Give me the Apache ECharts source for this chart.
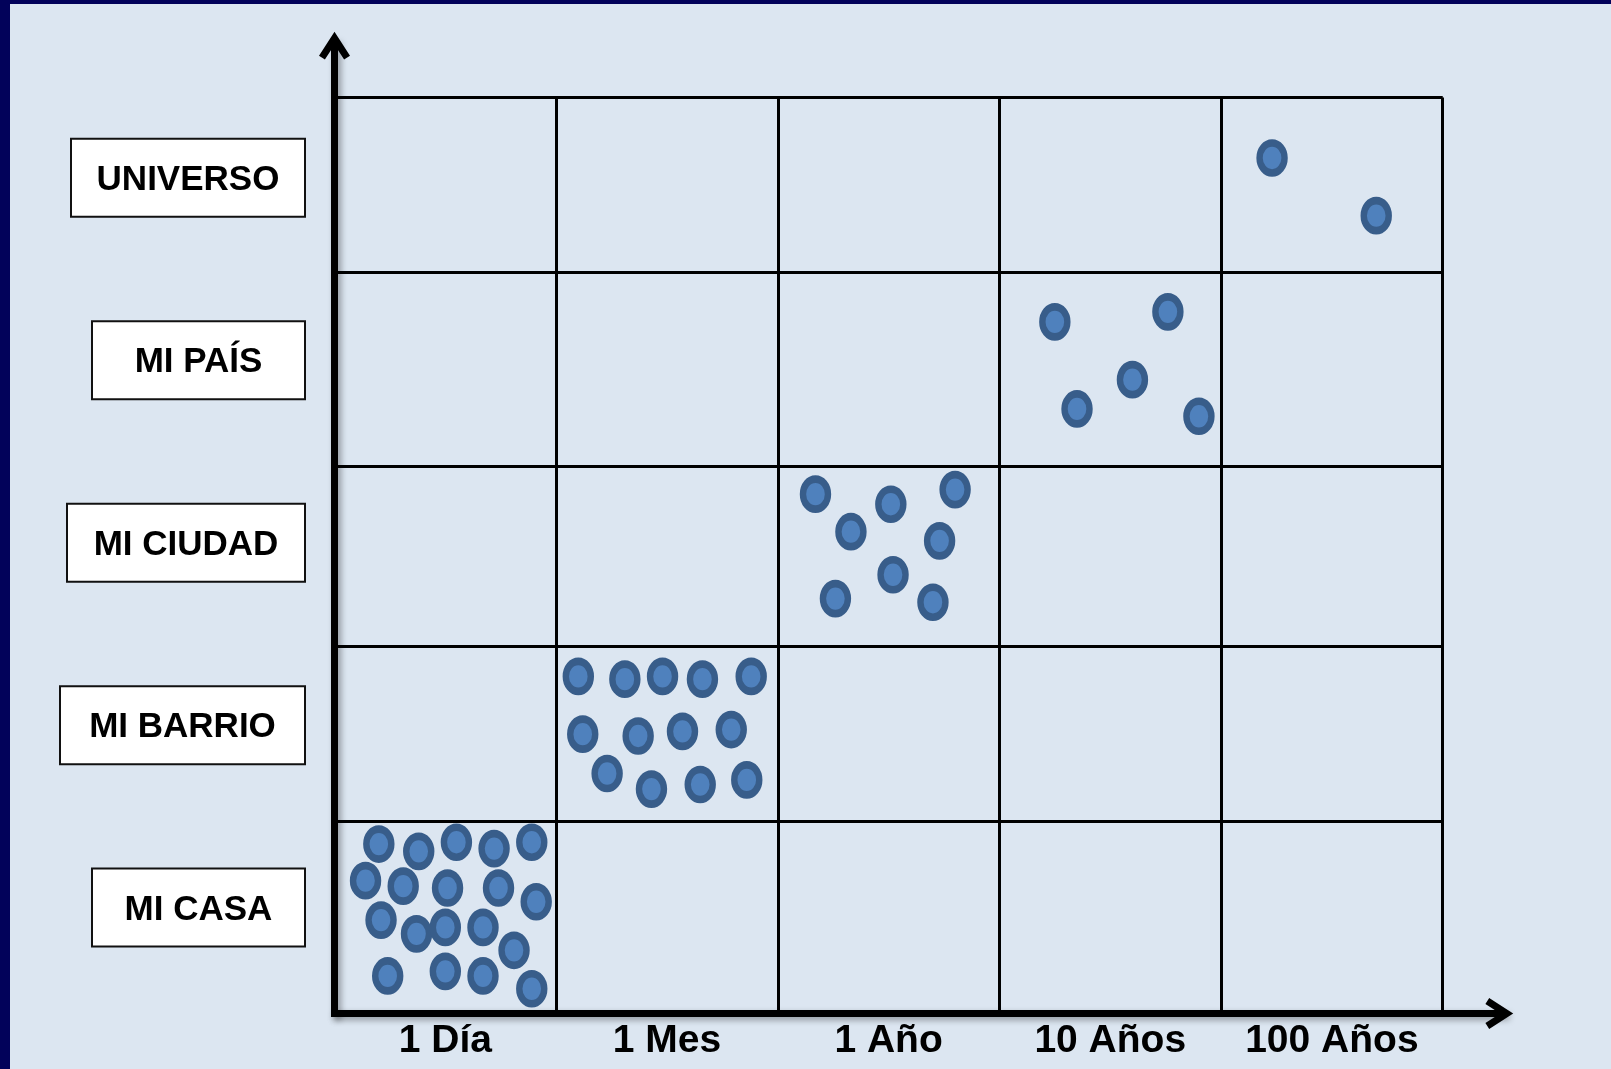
<!DOCTYPE html>
<html>
<head>
<meta charset="utf-8">
<script src="https://cdn.jsdelivr.net/npm/echarts@6/dist/echarts.min.js"></script>
<style>
html,body{margin:0;padding:0;background:#dce6f1;}
#chart{width:1611px;height:1069px;}
</style>
</head>
<body>
<div id="chart"></div>
<script>
// ---- data ----
const timeLabels = ['1 Día', '1 Mes', '1 Año', '10 Años', '100 Años'];
const placeLabels = ['MI CASA', 'MI BARRIO', 'MI CIUDAD', 'MI PAÍS', 'UNIVERSO']; // bottom -> top
const colEdges = [0, 1, 2, 3, 4, 5];
const rowEdges = [0, 21.0, 40.1, 59.7, 80.9, 100];

const dotsCasa = [[0.20,18.5],[0.38,17.7],[0.55,18.7],[0.72,18.0],[0.89,18.7],
  [0.14,14.5],[0.31,13.9],[0.51,13.7],[0.74,13.7],[0.91,12.2],
  [0.21,10.2],[0.37,8.7],[0.50,9.4],[0.67,9.4],[0.81,6.9],
  [0.24,4.1],[0.50,4.6],[0.67,4.1],[0.89,2.7]];
const dotsBarrio = [[1.10,36.8],[1.31,36.5],[1.48,36.8],[1.66,36.5],[1.88,36.8],
  [1.12,30.5],[1.37,30.3],[1.57,30.8],[1.79,31.0],
  [1.23,26.2],[1.43,24.5],[1.65,25.0],[1.86,25.5]];
const dotsCiudad = [[2.17,56.7],[2.51,55.6],[2.80,57.2],[2.33,52.6],[2.73,51.6],
  [2.52,47.9],[2.26,45.3],[2.70,44.9]];
const dotsPais = [[3.25,75.5],[3.76,76.6],[3.60,69.2],[3.35,66.0],[3.90,65.2]];
const dotsUniverso = [[4.23,93.4],[4.70,87.1]];

// ---- styles / layout ----
const xMax = 5.271;    // axis extends past the last column to the arrow
const yMax = 106.04;   // axis extends above the top row to the arrow
const boxWidths = [211, 243, 236, 211, 232];
const fontFam = '"Liberation Sans", Arial, Helvetica, sans-serif';
const chevron = 'path://M15.5,0 L31,24 L25.1,27.8 L15.5,13 L5.9,27.8 L0,24 Z';
const axisLineStyle = {
  color: '#000', width: 7, cap: 'square',
  shadowColor: 'rgba(0,0,0,0.35)', shadowBlur: 6, shadowOffsetX: 3, shadowOffsetY: 3
};

const gridLines = [];
rowEdges.slice(1).forEach(y => gridLines.push([{coord: [colEdges[0], y]}, {coord: [colEdges[colEdges.length-1], y]}]));
colEdges.slice(1).forEach(x => gridLines.push([{coord: [x, rowEdges[0]]}, {coord: [x, rowEdges[rowEdges.length-1]]}]));

const rich = {};
boxWidths.forEach((w, i) => {
  rich['b' + i] = {
    width: w, height: 71, padding: [5, 0, 0, 0], align: 'center', verticalAlign: 'middle',
    backgroundColor: '#ffffff', borderColor: '#111', borderWidth: 2,
    fontFamily: fontFam, fontWeight: 'bold', fontSize: 35, color: '#000'
  };
});

const dotStyle = {color: '#4f81bd', borderColor: '#385d8a', borderWidth: 7, opacity: 1};
function dotSeries(data, extra) {
  return Object.assign({
    type: 'scatter', xAxisIndex: 0, yAxisIndex: 0,
    symbol: 'circle', symbolSize: [25, 30],
    itemStyle: dotStyle, data: data, silent: true, z: 5
  }, extra || {});
}

const chart = echarts.init(document.getElementById('chart'), null, {renderer: 'canvas'});
chart.setOption({
  animation: false,
  backgroundColor: '#dce6f1',
  graphic: [
    {type: 'rect', shape: {x: 0, y: 0, width: 10, height: 1069}, style: {fill: '#02025a'}, z: 100},
    {type: 'rect', shape: {x: 0, y: 0, width: 1611, height: 4}, style: {fill: '#02025a'}, z: 100}
  ],
  grid: [
    {left: 334.5, top: 42.2, right: 108.2, bottom: 55.5, outerBoundsMode: 'none', containLabel: false},
    {left: 334.5, top: 86.6, width: 1108.2, height: 912.2, outerBoundsMode: 'none', containLabel: false}
  ],
  xAxis: [
    {
      type: 'value', gridIndex: 0, min: 0, max: xMax,
      axisLine: {show: true, onZero: false, symbol: ['none', chevron], symbolSize: [31, 28], symbolOffset: [0, -3.5], lineStyle: axisLineStyle},
      axisTick: {show: false}, axisLabel: {show: false}, splitLine: {show: false}
    },
    {
      type: 'category', gridIndex: 1, data: timeLabels, position: 'bottom',
      axisLine: {show: false}, axisTick: {show: false}, splitLine: {show: false},
      axisLabel: {interval: 0, margin: 23, fontFamily: fontFam, fontWeight: 'bold', fontSize: 39, color: '#000'}
    }
  ],
  yAxis: [
    {
      type: 'value', gridIndex: 0, min: 0, max: yMax,
      axisLine: {show: true, onZero: false, symbol: ['none', chevron], symbolSize: [31, 28], symbolOffset: [0, -3.5], lineStyle: axisLineStyle},
      axisTick: {show: false}, axisLabel: {show: false}, splitLine: {show: false}
    },
    {
      type: 'category', gridIndex: 1, data: placeLabels, position: 'left',
      axisLine: {show: false}, axisTick: {show: false}, splitLine: {show: false},
      axisLabel: {
        interval: 0, margin: 30.5,
        formatter: (v, i) => '{b' + i + '|' + v + '}',
        rich: rich
      }
    }
  ],
  series: [
    dotSeries(dotsCasa, {
      markLine: {
        silent: true, symbol: ['none', 'none'], label: {show: false},
        lineStyle: {color: '#000', width: 3, type: 'solid'},
        emphasis: {disabled: true},
        data: gridLines
      }
    }),
    dotSeries(dotsBarrio),
    dotSeries(dotsCiudad),
    dotSeries(dotsPais),
    dotSeries(dotsUniverso)
  ]
});
</script>
</body>
</html>
